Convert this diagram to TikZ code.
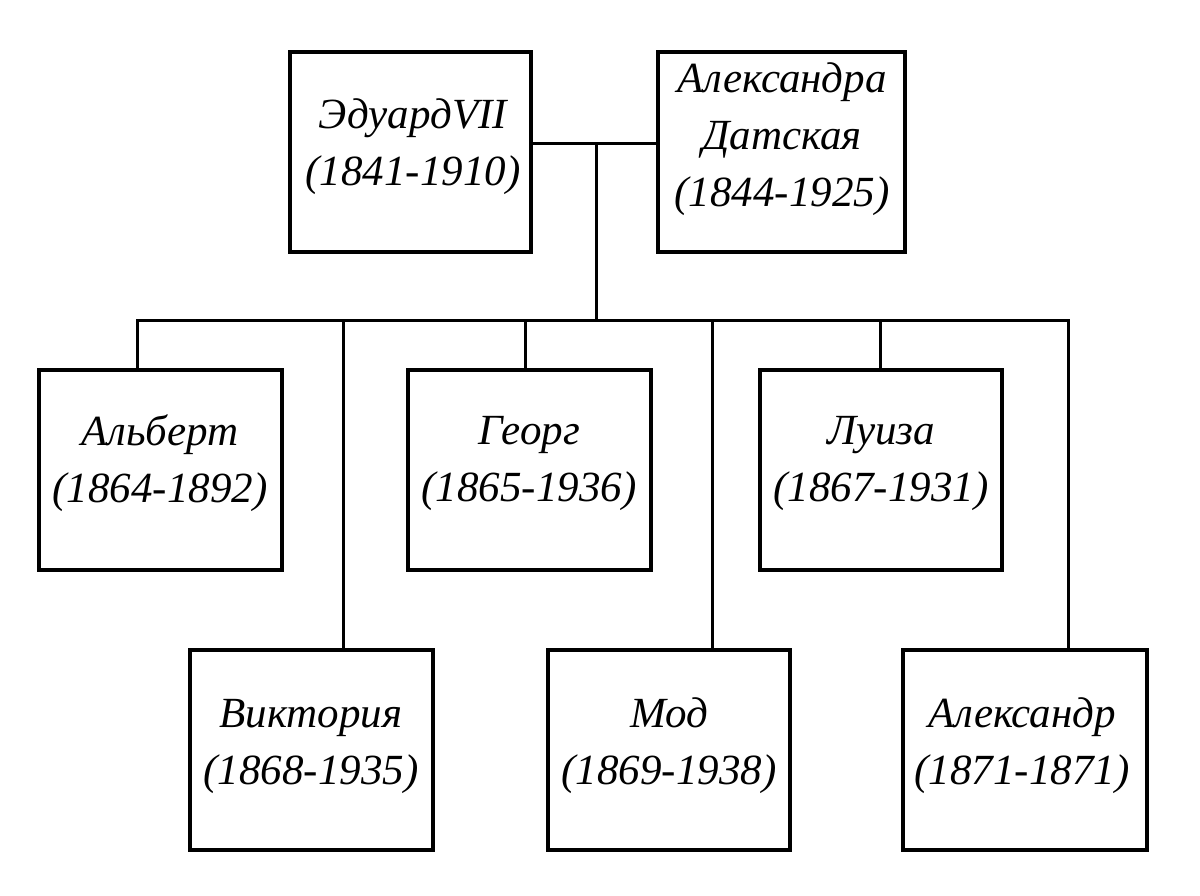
\documentclass[tikz,border=0pt]{standalone}
\usepackage{fontspec}
\setmainfont{Liberation Serif}
\begin{document}
\begin{tikzpicture}[x=1pt,y=-1pt,
  box/.style={draw=black,line width=3.5pt,rectangle,minimum width=241pt,minimum height=200pt,inner sep=0pt},
  lbl/.style={font=\fontsize{43}{57}\selectfont\itshape,align=center,inner sep=0pt},
  wire/.style={draw=black,line width=3pt,line cap=rect}]
\useasboundingbox[fill=white] (0,0) rectangle (1200,895);
% connector points
\coordinate (m) at (596,143);
\coordinate (bar) at (596,320);
\coordinate (k1) at (137,320);
\coordinate (k2) at (525,320);
\coordinate (k3) at (880,320);
\coordinate (k4) at (343,320);
\coordinate (k5) at (712,320);
\coordinate (k6) at (1068,320);
% parents
\node[box] (ed) at (410.5,152) {};
\node[box,minimum width=247pt] (al) at (781.5,152) {};
% children
\node[box,minimum width=243pt] (c1) at (160.5,470) {};
\node[box,minimum width=243pt] (c2) at (529.5,470) {};
\node[box,minimum width=242pt] (c3) at (881,470) {};
\node[box,minimum width=243pt] (c4) at (311.5,750) {};
\node[box,minimum width=242pt] (c5) at (669,750) {};
\node[box,minimum width=244pt] (c6) at (1025,750) {};
\draw[wire] (ed.east |- m) -- (al.west |- m);
\draw[wire] (m) -- (bar);
\draw[wire] (k1) -- (k6);
\draw[wire] (k1) -- (k1 |- c1.north);
\draw[wire] (k2) -- (k2 |- c2.north);
\draw[wire] (k3) -- (k3 |- c3.north);
\draw[wire] (k4) -- (k4 |- c4.north);
\draw[wire] (k5) -- (k5 |- c5.north);
\draw[wire] (k6) -- (k6 |- c6.north);
% labels
\node[lbl] (edt) at (413,147) {ЭдуардVII\\(1841-1910)};
\node[lbl] (alt) at (782,139) {Александра\\Датская\\(1844-1925)};
\node[lbl] (t1) at (160,463) {Альберт\\(1864-1892)};
\node[lbl] (t2) at (529,463) {Георг\\(1865-1936)};
\node[lbl] (t3) at (881,463) {Луиза\\(1867-1931)};
\node[lbl] (t4) at (311,746) {Виктория\\(1868-1935)};
\node[lbl] (t5) at (669,746) {Мод\\(1869-1938)};
\node[lbl] (t6) at (1022,746) {Александр\\(1871-1871)};
\end{tikzpicture}
\end{document}
